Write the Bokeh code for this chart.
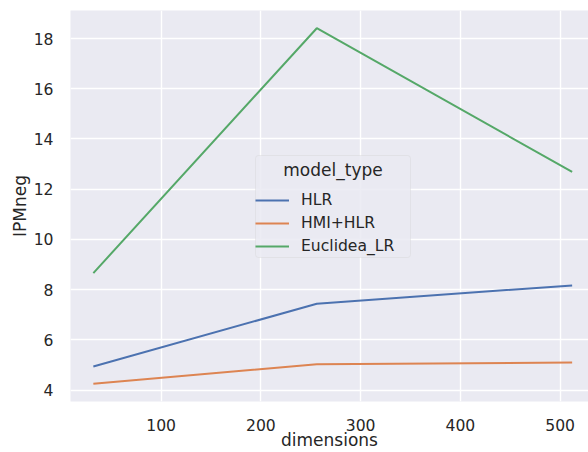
from bokeh.plotting import figure
from bokeh.models import Range1d, FixedTicker, Legend, LegendItem, Label, BoxAnnotation
from bokeh.embed import file_html
from bokeh.resources import INLINE

dimensions = [32, 256, 512]
hlr = [4.94, 7.44, 8.17]
hmi_hlr = [4.25, 5.03, 5.10]
euclidea_lr = [8.66, 18.41, 12.69]
series_names = ["HLR", "HMI+HLR", "Euclidea_LR"]
series_colors = ["#4C72B0", "#DD8452", "#55A868"]
x_ticks = [100, 200, 300, 400, 500]
y_ticks = [4, 6, 8, 10, 12, 14, 16, 18]

FONT = "DejaVu Sans"
TXT = "#262626"

p = figure(width=588, height=452, output_backend="svg", toolbar_location=None,
           x_range=Range1d(9.1, 528.4), y_range=Range1d(3.546, 19.116),
           min_border_left=70, min_border_right=0, min_border_top=10, min_border_bottom=51)
p.background_fill_color = "#EAEAF2"
p.border_fill_color = "white"
p.outline_line_color = None

for ax in (p.xaxis, p.yaxis):
    ax.axis_line_color = None
    ax.major_tick_line_color = None
    ax.minor_tick_line_color = None
    ax.major_tick_in = 0
    ax.major_tick_out = 0
    ax.minor_tick_in = 0
    ax.minor_tick_out = 0
    ax.major_label_text_font = FONT
    ax.major_label_text_font_size = "15.6px"
    ax.major_label_text_color = TXT
    ax.axis_label_text_font = FONT
    ax.axis_label_text_font_size = "17px"
    ax.axis_label_text_color = TXT
    ax.axis_label_text_font_style = "normal"

p.xaxis.ticker = FixedTicker(ticks=x_ticks)
p.yaxis.ticker = FixedTicker(ticks=y_ticks)
p.xaxis.axis_label = "dimensions"
p.yaxis.axis_label = "IPMneg"
p.xaxis.major_label_standoff = 17
p.yaxis.major_label_standoff = 17
p.xaxis.axis_label_standoff = -4
p.yaxis.axis_label_standoff = 1

for g in (p.xgrid, p.ygrid):
    g.grid_line_color = "white"
    g.grid_line_width = 1.4
p.xgrid.ticker = FixedTicker(ticks=x_ticks)
p.ygrid.ticker = FixedTicker(ticks=y_ticks)

items = []
for name, ys, col in zip(series_names, [hlr, hmi_hlr, euclidea_lr], series_colors):
    r = p.line(dimensions, ys, line_color=col, line_width=2)
    items.append(LegendItem(label=name, renderers=[r]))

legend_box = BoxAnnotation(left=185, right=340, bottom=144, top=246,
                           left_units="screen", right_units="screen",
                           bottom_units="screen", top_units="screen",
                           fill_color="#EAEAF2", fill_alpha=0.85,
                           line_color="#CCCCCC", line_width=1, border_radius=3)
p.add_layout(legend_box)

title_lbl = Label(x=262.5, y=231.5, x_units="screen", y_units="screen", text="model_type",
                  text_align="center", text_baseline="middle",
                  text_font=FONT, text_font_size="17px", text_color=TXT)
p.add_layout(title_lbl)

legend = Legend(items=items, location=(185, 144), title="model_type",
                title_text_font=FONT, title_text_font_size="17px", title_text_alpha=0,
                title_standoff=4,
                label_text_font=FONT, label_text_font_size="15.6px", label_text_color=TXT,
                glyph_width=34, glyph_height=22, label_height=22, label_standoff=12,
                spacing=1, padding=6, margin=0,
                background_fill_alpha=0, border_line_color=None)
p.add_layout(legend, "center")

open("out.html", "w").write(file_html(p, INLINE))
